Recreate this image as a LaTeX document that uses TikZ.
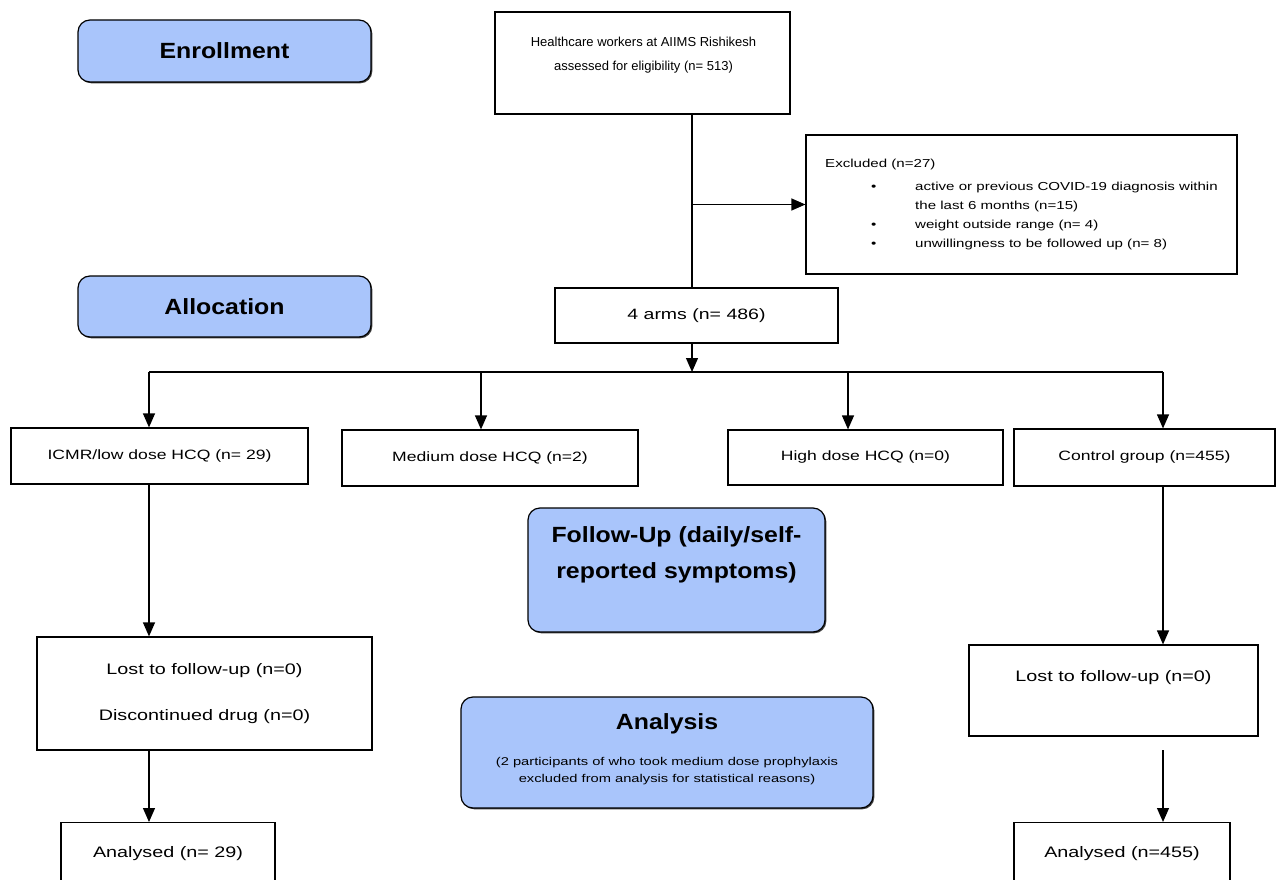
\documentclass[tikz,border=0pt]{standalone}
\usepackage{fontspec}
\setmainfont{Liberation Sans}
\newfontfamily\widefont{Liberation Sans}[FakeStretch=1.3]
\newfontfamily\hdrfamily{Liberation Sans}[FakeStretch=1.13]
\usetikzlibrary{arrows.meta,shadows}
\definecolor{hdrblue}{HTML}{A9C5FB}
\begin{document}
\begin{tikzpicture}[x=1pt,y=-1pt,
  box/.style={draw, line width=1.2pt, fill=white, inner sep=0pt, align=center},
  txt/.style={inner sep=0pt, align=center},
  hdr/.style={draw, line width=1.2pt, fill=hdrblue, rounded corners=12pt, inner sep=0pt, align=center,
    drop shadow={shadow xshift=1.3pt, shadow yshift=-1.3pt, fill=black!75, opacity=1}},
  hfont/.style={font=\hdrfamily\fontsize{22}{36}\selectfont\bfseries},
  bfont/.style={font=\widefont\fontsize{13.5}{16}\selectfont},
  lfont/.style={font=\widefont\fontsize{15.2}{18}\selectfont},
  arr/.style={line width=1.2pt, -{Triangle[length=14pt,width=12pt]}},
  ln/.style={line width=1.2pt}]
\useasboundingbox (0,0) rectangle (1277,880);
\clip (0,0) rectangle (1277,880);
\fill[white] (0,0) rectangle (1277,880);

% header boxes
\node[hdr, hfont, minimum width=293, minimum height=62] (enr) at (224.5,51) {Enrollment};
\node[hdr, hfont, minimum width=293, minimum height=61] (alloc) at (224.5,306.5) {Allocation};
\node[hdr, minimum width=297, minimum height=124] (fu) at (676.5,570) {};
\node[txt, hfont] (fut) at ([yshift=15pt]fu.center) {Follow-Up (daily/self-\\reported symptoms)};
\node[hdr, minimum width=412, minimum height=111] (ana) at (667,752.5) {};
\node[txt, hfont] (anat) at (667,724) {Analysis};
\node[txt, font=\widefont\fontsize{11.3}{17}\selectfont] (anas) at (667,771.5) {(2 participants of who took medium dose prophylaxis\\excluded from analysis for statistical reasons)};

% flow boxes
\node[box, minimum width=295, minimum height=102] (hc) at (642.5,63) {};
\node[txt, font=\fontsize{13}{24}\selectfont] (hct) at (643.5,55) {Healthcare workers at AIIMS Rishikesh\\assessed for eligibility (n= 513)};

\node[box, minimum width=431, minimum height=139] (excl) at (1021.5,204.5) {};
\node[txt, anchor=north west, font=\widefont\fontsize{11.6}{19}\selectfont] (exclt) at (825,154) {%
\begin{tabular}{@{}p{90pt}@{}l@{}}
\multicolumn{2}{@{}l@{}}{Excluded (n=27)}\\[4pt]
\hspace*{46pt}\textbullet & active or previous COVID-19 diagnosis within\\
 & the last 6 months (n=15)\\
\hspace*{46pt}\textbullet & weight outside range (n= 4)\\
\hspace*{46pt}\textbullet & unwillingness to be followed up (n= 8)
\end{tabular}};

\node[box, minimum width=283, minimum height=55, font=\widefont\fontsize{15}{18}\selectfont] (arms) at (696.5,315.5) {4 arms (n= 486)};

\node[box, bfont, minimum width=297, minimum height=56] (icmr) at (159.5,456) {ICMR/low dose HCQ (n= 29)};
\node[box, bfont, minimum width=296, minimum height=56] (med) at (490,458) {Medium dose HCQ (n=2)};
\node[box, bfont, minimum width=275, minimum height=55] (high) at (865.5,457.5) {High dose HCQ (n=0)};
\node[box, bfont, minimum width=261, minimum height=57] (ctrl) at (1144.5,457.5) {Control group (n=455)};

\node[box, lfont, minimum width=335, minimum height=113] (lostL) at (204.5,693.5) {Lost to follow-up (n=0)\\[28pt]Discontinued drug (n=0)};
\node[box, minimum width=289, minimum height=91] (lostR) at (1113.5,690.5) {};
\node[txt, lfont] (lostRt) at (1113.5,678) {Lost to follow-up (n=0)};

\node[box, lfont, anchor=north, minimum width=214, minimum height=62] (anL) at (168,822) {Analysed (n= 29)};
\node[box, lfont, anchor=north, minimum width=216, minimum height=62] (anR) at (1122,822) {Analysed (n=455)};

% connectors
\coordinate (sp) at (692,372);
\coordinate (c1) at (149,372);
\coordinate (c2) at (481,372);
\coordinate (c3) at (848,372);
\coordinate (c4) at (1163,372);
\coordinate (r3) at (1163,750);

\draw[ln] (hc.south -| sp) -- (arms.north -| sp);
\draw[arr] (excl.west -| sp) -- (excl.west);
\draw[arr] (arms.south -| sp) -- (sp);
\draw[ln] (c1) -- (c4);
\draw[arr] (c1) -- (c1 |- icmr.north);
\draw[arr] (c2) -- (c2 |- med.north);
\draw[arr] (c3) -- (c3 |- high.north);
\draw[arr] (c4) -- (c4 |- ctrl.north);
\draw[arr] (icmr.south -| c1) -- (c1 |- lostL.north);
\draw[arr] (lostL.south -| c1) -- (c1 |- anL.north);
\draw[arr] (ctrl.south -| c4) -- (c4 |- lostR.north);
\draw[arr] (r3) -- (r3 |- anR.north);
\end{tikzpicture}
\end{document}
